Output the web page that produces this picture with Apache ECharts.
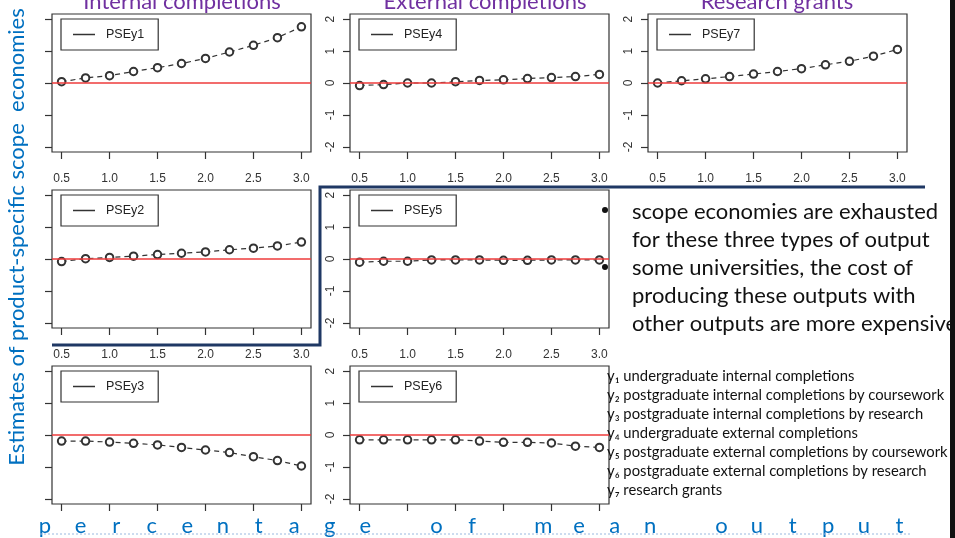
<!DOCTYPE html>
<html><head><meta charset="utf-8">
<script src="https://cdn.jsdelivr.net/npm/echarts@6/dist/echarts.min.js"></script>
<style>html,body{margin:0;padding:0;background:#fff}#c{width:955px;height:538px}</style>
</head><body><div id="c"></div>
<script>
// ---- data ----
const xValues = [0.5, 0.75, 1.0, 1.25, 1.5, 1.75, 2.0, 2.25, 2.5, 2.75, 3.0];
const pseY1 = [0.04, 0.16, 0.23, 0.36, 0.48, 0.61, 0.77, 0.97, 1.18, 1.42, 1.76];
const pseY2 = [-0.08, 0.01, 0.05, 0.09, 0.14, 0.18, 0.22, 0.29, 0.34, 0.41, 0.53];
const pseY3 = [-0.19, -0.19, -0.22, -0.26, -0.31, -0.39, -0.47, -0.55, -0.68, -0.80, -0.97];
const pseY4 = [-0.08, -0.05, 0.00, 0.00, 0.04, 0.08, 0.10, 0.14, 0.17, 0.20, 0.27];
const pseY5 = [-0.10, -0.07, -0.07, -0.03, -0.03, -0.03, -0.04, -0.04, -0.03, -0.03, -0.03];
const pseY6 = [-0.15, -0.15, -0.15, -0.15, -0.15, -0.19, -0.23, -0.23, -0.25, -0.35, -0.39];
const pseY7 = [0.00, 0.07, 0.13, 0.20, 0.28, 0.36, 0.45, 0.57, 0.68, 0.84, 1.05];
const xTicks = [0.5, 1.0, 1.5, 2.0, 2.5, 3.0];
const yTicks = [-2, -1, 0, 1, 2];
const columnTitles = ['Internal completions', 'External completions', 'Research grants'];
const yAxisTitle = 'Estimates of product-specific scope  economies';
const xAxisTitle = 'percentage of mean output';
const bulletLines = ['scope economies are exhausted', 'for these three types of output',
  'some universities, the cost of', 'producing these outputs with', 'other outputs are more expensive'];
const outputNames = ['undergraduate internal completions', 'postgraduate internal completions by coursework',
  'postgraduate internal completions by research', 'undergraduate external completions',
  'postgraduate external completions by coursework', 'postgraduate external completions by research',
  'research grants'];
const outputSubs = ['₁', '₂', '₃', '₄', '₅', '₆', '₇'];

// panel layout: [name, data, row, col]
const panels = [
  ['PSEy1', pseY1, 0, 0], ['PSEy4', pseY4, 0, 1], ['PSEy7', pseY7, 0, 2],
  ['PSEy2', pseY2, 1, 0], ['PSEy5', pseY5, 1, 1],
  ['PSEy3', pseY3, 2, 0], ['PSEy6', pseY6, 2, 1]
];

// ---- layout ----
const colLeft = [52, 350, 648];
const rowTop = [14, 190, 366];
const gW = 259, gH = 138;
const axisFont = 'Liberation Sans, Arial, sans-serif';
const slideFont = 'Lato, "Open Sans", sans-serif';

const grid = [], xAxis = [], yAxis = [], series = [], legend = [];
panels.forEach((p, i) => {
  const [name, data, r, c] = p;
  const left = colLeft[c], top = rowTop[r];
  grid.push({ left: left, top: top, width: gW, height: gH, show: true,
    borderColor: '#333', borderWidth: 1.2, backgroundColor: 'transparent', containLabel: false });
  xAxis.push({ type: 'value', gridIndex: i, min: 0.4, max: 3.1,
    axisLine: { show: false, onZero: false },
    splitLine: { show: false },
    axisTick: { show: true, length: 7, customValues: xTicks, lineStyle: { color: '#333', width: 1.2 } },
    axisLabel: { show: r < 2, customValues: xTicks, margin: 21,
      formatter: v => v.toFixed(1), color: '#333', fontSize: 12, fontFamily: axisFont }
  });
  yAxis.push({ type: 'value', gridIndex: i, min: -2.16, max: 2.16,
    axisLine: { show: false, onZero: false },
    splitLine: { show: false },
    axisTick: { show: true, length: 7, customValues: yTicks, lineStyle: { color: '#333', width: 1.2 } },
    axisLabel: { show: c > 0, customValues: yTicks, rotate: 90, margin: 13,
      color: '#333', fontSize: 12, fontFamily: axisFont }
  });
  series.push({ name: name, type: 'line', xAxisIndex: i, yAxisIndex: i,
    data: xValues.map((x, k) => [x, data[k]]),
    symbol: 'emptyCircle', symbolSize: 7.5, color: '#222',
    itemStyle: { color: '#333', borderWidth: 1 },
    lineStyle: { color: '#333', width: 1.2, type: [5, 4] },
    silent: true, animation: false,
    markLine: { silent: true, symbol: 'none', label: { show: false },
      lineStyle: { color: '#ee3b3b', width: 1.5, type: 'solid' },
      data: [{ yAxis: 0 }] }
  });
  legend.push({ data: [name], left: left + 9, top: top + 5,
    orient: 'vertical', selectedMode: false,
    icon: 'rect', itemWidth: 22, itemHeight: 1.5, itemGap: 0,
    padding: [9, 14, 9, 12], borderColor: '#333', borderWidth: 1.2,
    textStyle: { fontSize: 12.5, fontFamily: axisFont, color: '#222', padding: [0, 0, 0, 6] }
  });
});

const graphic = [];
// column titles
const titleCenters = [182, 485, 777];
columnTitles.forEach((t, i) => graphic.push({ type: 'text', x: titleCenters[i], y: 13,
  style: { text: t, fill: '#7030A0', font: '22px ' + slideFont, align: 'center', verticalAlign: 'bottom' } }));
// y title
graphic.push({ type: 'text', x: 17, y: 237, rotation: Math.PI / 2,
  style: { text: yAxisTitle, fill: '#0070C0', font: '22px ' + slideFont, align: 'center', verticalAlign: 'middle' } });
// spaced x title
xAxisTitle.split('').forEach((ch, i) => { if (ch !== ' ') graphic.push({ type: 'text', x: 45 + i * 35.6, y: 526,
  style: { text: ch, fill: '#0070C0', font: '22px ' + slideFont, align: 'center', verticalAlign: 'middle' } }); });
graphic.push({ type: 'line', shape: { x1: 40, y1: 534, x2: 910, y2: 534 },
  style: { stroke: '#9ab9e0', lineWidth: 1, lineDash: [2, 2] } });
// navy callout frame
graphic.push({ type: 'polyline', shape: { points: [[52, 345], [320, 345], [320, 187], [925, 187]] },
  style: { stroke: '#1f3864', lineWidth: 3, fill: null } });
// bullets
bulletLines.forEach((t, i) => graphic.push({ type: 'text', x: 632, y: 212 + i * 28,
  style: { text: t, fill: '#111', font: '22px ' + slideFont, verticalAlign: 'middle' } }));
[0, 2].forEach(i => graphic.push({ type: 'circle', shape: { cx: 605, cy: 210 + i * 28.5, r: 3 }, style: { fill: '#111' } }));
// output legend
outputNames.forEach((t, i) => graphic.push({ type: 'text', x: 607, y: 376 + i * 19.1,
  style: { text: 'y' + outputSubs[i] + ' ' + t, fill: '#111', font: '14.8px ' + slideFont, verticalAlign: 'middle' } }));
// slide edge bar
graphic.push({ type: 'rect', shape: { x: 950, y: 0, width: 5, height: 538 }, style: { fill: '#111' } });

const chart = echarts.init(document.getElementById('c'), null, { renderer: 'canvas' });
chart.setOption({ animation: false, backgroundColor: '#fff', grid, xAxis, yAxis, series, legend, graphic });
</script></body></html>
